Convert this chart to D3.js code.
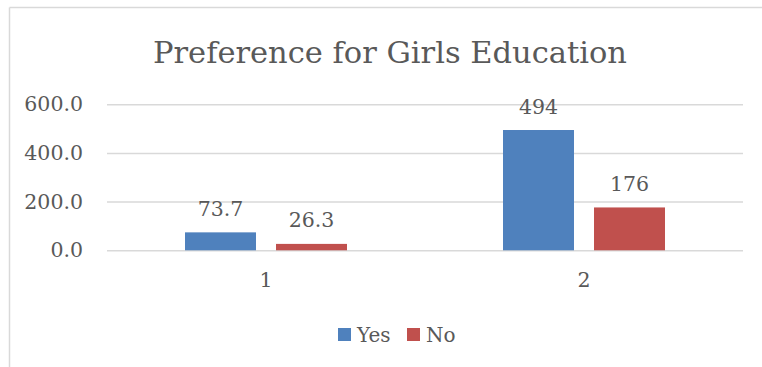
<!DOCTYPE html>
<html>
<head>
<meta charset="utf-8">
<script src="https://cdn.jsdelivr.net/npm/d3@7"></script>
<style>
  html, body { margin: 0; padding: 0; background: #fff; }
  svg text { font-family: "DejaVu Serif", serif; fill: #595959; }
</style>
</head>
<body>
<svg id="chart" width="762" height="367"></svg>
<script>
const categories = ["1", "2"];
const seriesNames = ["Yes", "No"];
const yesValues = [73.7, 494];
const noValues = [26.3, 176];
const valueLabels = [["73.7", "494"], ["26.3", "176"]];
const yTicks = [0, 200, 400, 600];
const colors = ["#4f81bd", "#c0504d"];

const svg = d3.select("#chart");
const width = 762;
const height = 367;

// chart frame (light border on top and left)
svg.append("line")
  .attr("x1", 9.5).attr("y1", 7.5).attr("x2", width).attr("y2", 7.5)
  .attr("stroke", "#d9d9d9").attr("stroke-width", 1.5);
svg.append("line")
  .attr("x1", 9.5).attr("y1", 7.5).attr("x2", 9.5).attr("y2", height)
  .attr("stroke", "#d9d9d9").attr("stroke-width", 1.5);

const plot = { left: 107, right: 743, top: 104.2, bottom: 250.3 };

const y = d3.scaleLinear().domain([0, 600]).range([plot.bottom, plot.top]);
const x0 = d3.scaleBand().domain(categories).range([plot.left, plot.right]);
const x1 = d3.scaleBand().domain(seriesNames).range([0, x0.bandwidth()])
  .paddingInner(0.22).paddingOuter(0.857);

// title
svg.append("text")
  .attr("x", 390)
  .attr("y", 63)
  .attr("text-anchor", "middle")
  .style("font-size", "30.5px")
  .text("Preference for Girls Education");

// gridlines + y axis
const yAxis = svg.append("g")
  .attr("transform", `translate(${plot.left},0)`)
  .call(d3.axisLeft(y).tickValues(yTicks).tickFormat(d3.format(".1f"))
    .tickSize(-(plot.right - plot.left)).tickPadding(24));
yAxis.select(".domain").remove();
yAxis.selectAll(".tick line").attr("stroke", "#d9d9d9").attr("stroke-width", 1.5);
yAxis.selectAll(".tick text")
  .attr("fill", "#595959")
  .style("font-size", "20.5px")
  .style("font-family", "DejaVu Serif, serif");

// bars
const rows = categories.map((c, i) => ({
  cat: c,
  values: [
    { name: "Yes", value: yesValues[i], label: valueLabels[0][i] },
    { name: "No", value: noValues[i], label: valueLabels[1][i] },
  ],
}));

const groups = svg.append("g")
  .selectAll("g")
  .data(rows)
  .join("g")
  .attr("transform", (d) => `translate(${x0(d.cat)},0)`);

groups.selectAll("rect")
  .data((d) => d.values)
  .join("rect")
  .attr("x", (d) => x1(d.name))
  .attr("width", x1.bandwidth())
  .attr("y", (d) => y(d.value))
  .attr("height", (d) => y(0) - y(d.value))
  .attr("fill", (d, i) => colors[i]);

groups.selectAll("text.value")
  .data((d) => d.values)
  .join("text")
  .attr("class", "value")
  .attr("x", (d) => x1(d.name) + x1.bandwidth() / 2)
  .attr("y", (d) => y(d.value) - 16.5)
  .attr("text-anchor", "middle")
  .style("font-size", "20.5px")
  .text((d) => d.label);

// category labels
svg.append("g")
  .selectAll("text")
  .data(categories)
  .join("text")
  .attr("x", (d) => x0(d) + x0.bandwidth() / 2)
  .attr("y", 287)
  .attr("text-anchor", "middle")
  .style("font-size", "20.5px")
  .text((d) => d);

// legend
const legendItems = [
  { name: "Yes", x: 338, color: colors[0] },
  { name: "No", x: 407, color: colors[1] },
];
const legend = svg.append("g").selectAll("g").data(legendItems).join("g");
legend.append("rect")
  .attr("x", (d) => d.x).attr("y", 328)
  .attr("width", 13).attr("height", 13)
  .attr("fill", (d) => d.color);
legend.append("text")
  .attr("x", (d) => d.x + 19)
  .attr("y", 342)
  .style("font-size", "20px")
  .text((d) => d.name);
</script>
</body>
</html>
